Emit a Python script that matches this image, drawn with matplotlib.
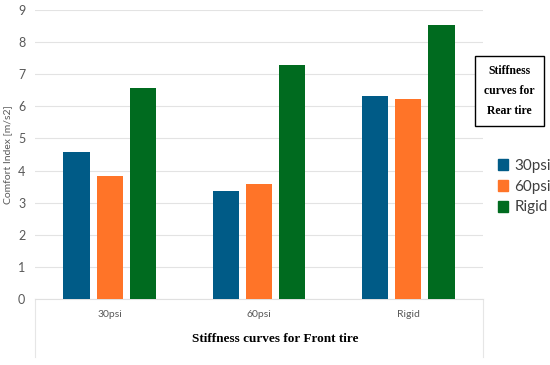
import numpy as np
import matplotlib
matplotlib.use('Agg')
import matplotlib.pyplot as plt
from matplotlib.patches import Patch

categories = ['30psi', '60psi', 'Rigid']
series = ['30psi', '60psi', 'Rigid']
vals_30psi = [4.57, 3.35, 6.33]
vals_60psi = [3.84, 3.59, 6.24]
vals_rigid = [6.58, 7.29, 8.52]
colors = ['#005b87', '#ff7428', '#006b1f']

fig = plt.figure(figsize=(5.5, 3.65), dpi=100)
ax = fig.add_axes([35/550, 1-299/365, 448/550, 289/365])

x = np.arange(len(categories))
w = 0.175
off = 0.222
for i, (vals, c) in enumerate(zip([vals_30psi, vals_60psi, vals_rigid], colors)):
    ax.bar(x + (i - 1) * off, vals, width=w, color=c, zorder=3)

ax.set_xlim(-0.5, 2.5)
ax.set_ylim(0, 9)
ax.set_yticks(range(10))
ax.grid(axis='y', color='#e3e3e3', lw=0.8, zorder=0)
for s in ['top', 'right', 'left']:
    ax.spines[s].set_visible(False)
ax.spines['bottom'].set_color('#e0e0e0')
ax.tick_params(axis='y', length=0, labelsize=9, labelcolor='#595959', pad=7)
ax.tick_params(axis='x', length=0, labelsize=7.5, labelcolor='#595959', pad=8)
ax.set_xticks(x)
ax.set_xticklabels(categories, family='Lato')
for lab in ax.get_yticklabels():
    lab.set_family('Lato')
ax.set_ylabel('Comfort Index [m/s2]', family='Lato', fontsize=7.5, color='#595959', labelpad=2)
ax.yaxis.set_label_coords(-0.05, 0.5)

# table-like lines below the axis
for xa in [0, 1]:
    ax.plot([xa, xa], [0, -0.2], transform=ax.transAxes, color='#e6e6e6', lw=0.8, clip_on=False)

fig.text(275/550, 1-339/365, 'Stiffness curves for Front tire', family='Liberation Serif',
         weight='bold', fontsize=9.5, ha='center', va='center')

fig.text(509.5/550, 1-91/365, 'Stiffness\ncurves for\nRear tire', family='Liberation Serif',
         weight='bold', fontsize=8.5, ha='center', va='center', linespacing=1.85,
         bbox=dict(boxstyle='square,pad=0.75', fc='white', ec='black', lw=1))

handles = [Patch(color=c) for c in colors]
leg = fig.legend(handles, series, loc='upper left', bbox_to_anchor=(484/550, 1-145/365),
                 frameon=False, handlelength=0.7, handleheight=0.7,
                 handletextpad=0.4, labelspacing=0.45, prop={'family': 'Lato', 'size': 11})
for t in leg.get_texts():
    t.set_color('#404040')

fig.savefig('out.png', dpi=100)
